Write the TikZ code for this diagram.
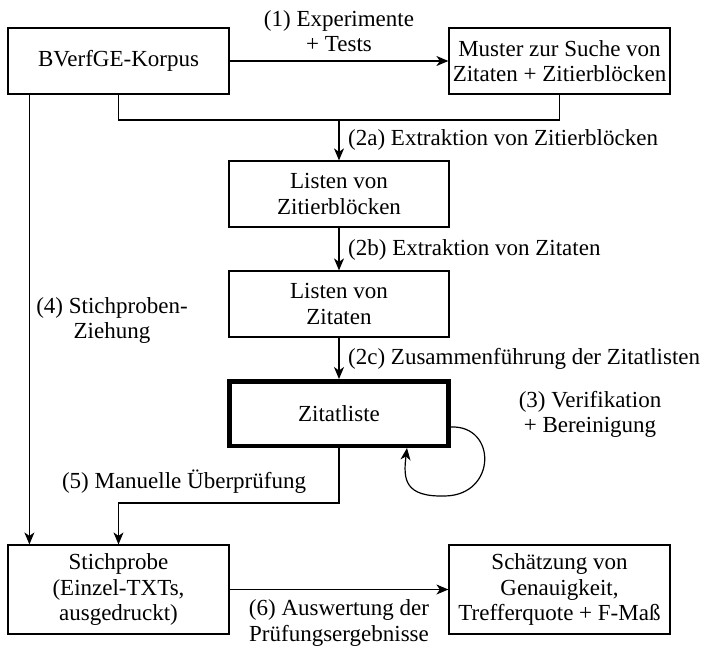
\documentclass[tikz,border=0pt]{standalone}
\usepackage{fontspec}
\setmainfont{Liberation Serif}
\usetikzlibrary{arrows.meta}
\begin{document}
\begin{tikzpicture}[x=1pt,y=1pt,
  every node/.style={font=\fontsize{23}{25.5}\selectfont, inner sep=0pt, align=center},
  box/.style={draw, line width=1.2pt, minimum width=220pt, minimum height=66pt},
  bigbox/.style={box, minimum height=89pt},
  thickbox/.style={draw, line width=4.5pt, minimum width=219pt, minimum height=64.5pt},
  conn/.style={line width=1.2pt},
  arr/.style={conn, -{Stealth[length=12pt,width=10pt,inset=3.5pt]}},
  lab/.style={}
]
\useasboundingbox (0,0) rectangle (711,-647);

\node[box, minimum width=221pt] (korpus) at (118.5,-61) {BVerfGE-Korpus};
\node[box, minimum width=221pt] (muster) at (559.5,-61) {Muster zur Suche von\\Zitaten + Zitierblöcken};
\node[box] (zb) at (339,-194) {Listen von\\Zitierblöcken};
\node[box] (zit) at (339,-304) {Listen von\\Zitaten};
\node[thickbox] (zl) at (339,-413.5) {Zitatliste};
\node[bigbox, minimum width=221pt] (stich) at (118.5,-589.5) {Stichprobe\\(Einzel-TXTs,\\ausgedruckt)};
\node[bigbox, minimum width=221pt] (schaetz) at (559.5,-589.5) {Schätzung von\\Genauigkeit,\\Trefferquote + F-Maß};

% (1)
\draw[arr] (korpus) -- (muster);
\node[lab] (l1) at (339,-31) {(1) Experimente\\+ Tests};

% (2a)
\coordinate (j) at (339,-120);
\draw[conn] (korpus.south) |- (j);
\draw[conn] (muster.south) |- (j);
\draw[arr] (j) -- (zb.north);
\node[lab, anchor=west] (l2a) at (348,-140) {(2a) Extraktion von Zitierblöcken};

% (2b)
\draw[arr] (zb) -- (zit);
\node[lab, anchor=west] (l2b) at (348,-250) {(2b) Extraktion von Zitaten};

% (2c)
\draw[arr] (zit) -- (zl);
\node[lab, anchor=west] (l2c) at (348,-359) {(2c) Zusammenführung der Zitatlisten};

% (3)
\draw[arr] ([yshift=-13.5pt]zl.east) .. controls (497,-425) and (497,-495) .. (445,-496)
  .. controls (405,-497) and (403,-480) .. ([xshift=68pt]zl.south);
\node[lab] (l3) at (590,-414.5) {(3) Verifikation\\+ Bereinigung};

% (4)
\draw[arr] ([xshift=22pt]korpus.south west) -- ([xshift=22pt]stich.north west);
\node[lab] (l4) at (112,-320.5) {(4) Stichproben-\\Ziehung};

% (5)
\draw[arr] (zl.south) -- ++(0,-55) -| (stich.north);
\node[lab] (l5) at (184,-482) {(5) Manuelle Überprüfung};

% (6)
\draw[arr] (stich) -- (schaetz);
\node[lab] (l6) at (339,-623) {(6) Auswertung der\\Prüfungsergebnisse};
\end{tikzpicture}
\end{document}
